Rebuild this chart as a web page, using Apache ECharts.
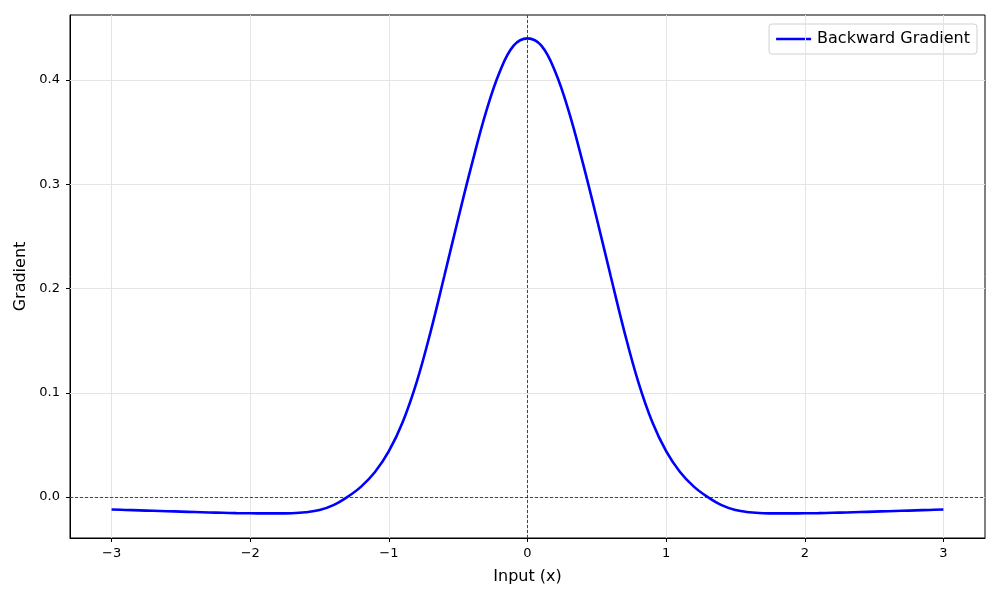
<!DOCTYPE html>
<html>
<head>
<meta charset="utf-8">
<script src="https://cdn.jsdelivr.net/npm/echarts@6/dist/echarts.min.js"></script>
<style>html,body{margin:0;padding:0;background:#fff}#c{width:1000px;height:600px}</style>
</head>
<body>
<div id="c"></div>
<script>
const xValues = [-3.0,-2.9,-2.8,-2.7,-2.6,-2.5,-2.4,-2.3,-2.2,-2.1,-2.0,-1.9,-1.8,-1.7,-1.6,-1.5,-1.4,-1.3,-1.2,-1.1,-1.0,-0.9,-0.8,-0.7,-0.6,-0.5,-0.4,-0.3,-0.2,-0.1,0.0,
  0.1,0.2,0.3,0.4,0.5,0.6,0.7,0.8,0.9,1.0,1.1,1.2,1.3,1.4,1.5,1.6,1.7,1.8,1.9,2.0,2.1,2.2,2.3,2.4,2.5,2.6,2.7,2.8,2.9,3.0];
const gradValues = [-0.0120,-0.0124,-0.0128,-0.0132,-0.0136,-0.0140,-0.0144,-0.0148,-0.0151,-0.0154,-0.0156,-0.0157,-0.0157,-0.0155,-0.0146,-0.0125,-0.0078,0.0000,0.0100,0.0240,0.0440,0.0720,0.1100,0.1580,0.2120,0.2670,0.3200,0.3690,0.4080,0.4330,0.4400,
  0.4330,0.4080,0.3690,0.3200,0.2670,0.2120,0.1580,0.1100,0.0720,0.0440,0.0240,0.0100,0.0000,-0.0078,-0.0125,-0.0146,-0.0155,-0.0157,-0.0157,-0.0156,-0.0154,-0.0151,-0.0148,-0.0144,-0.0140,-0.0136,-0.0132,-0.0128,-0.0124,-0.0120];
const xTicks = [-3,-2,-1,0,1,2,3];
const yTicks = [0.0,0.1,0.2,0.3,0.4];
const seriesName = 'Backward Gradient';
const xLabel = 'Input (x)';
const yLabel = 'Gradient';

const font = 'DejaVu Sans';
const fmtX = v => (v < 0 ? '\u2212' + Math.abs(v) : String(v));
const fmtY = v => (v < 0 ? '\u2212' : '') + Math.abs(v).toFixed(1);

const gridLines = [];
xTicks.forEach(v => gridLines.push({xAxis: v}));
yTicks.forEach(v => gridLines.push({yAxis: v}));

const chart = echarts.init(document.getElementById('c'), null, {renderer: 'canvas'});
chart.setOption({
  animation: false,
  textStyle: {fontFamily: font},
  grid: {left: 70, right: 15, top: 15, bottom: 62, show: true, borderColor: '#000', borderWidth: 1, backgroundColor: 'transparent'},
  legend: {
    data: [{name: seriesName, icon: 'path://M0,0 L35,0 L35,2.6 L0,2.6 Z'}], right: 23, top: 24, orient: 'vertical',
    itemWidth: 35, itemHeight: 2.6, itemGap: 10,
    padding: [7, 7, 7, 7], borderColor: '#d0d0d0', borderWidth: 1, borderRadius: 3,
    backgroundColor: 'rgba(255,255,255,0.8)',
    itemStyle: {color: '#0000ff', borderWidth: 0},
    lineStyle: {width: 0, opacity: 0},
    textStyle: {fontFamily: font, fontSize: 16, color: '#000', padding: [0, 0, 0, 1]}
  },
  xAxis: {
    type: 'value', min: -3.3, max: 3.3,
    name: xLabel, nameLocation: 'middle', nameGap: 31,
    nameTextStyle: {fontFamily: font, fontSize: 16, color: '#000'},
    axisLine: {show: true, onZero: false, lineStyle: {color: '#000', width: 1}},
    axisTick: {show: true, customValues: xTicks, length: 4, lineStyle: {color: '#000'}},
    axisLabel: {show: true, customValues: xTicks, formatter: fmtX, fontFamily: font, fontSize: 13, color: '#000', margin: 9},
    splitLine: {show: false}
  },
  yAxis: {
    type: 'value', min: -0.0393, max: 0.4624,
    name: yLabel, nameLocation: 'middle', nameGap: 39,
    nameTextStyle: {fontFamily: font, fontSize: 16, color: '#000'},
    axisLine: {show: true, onZero: false, lineStyle: {color: '#000', width: 1}},
    axisTick: {show: true, customValues: yTicks, length: 4, lineStyle: {color: '#000'}},
    axisLabel: {show: true, customValues: yTicks, formatter: fmtY, fontFamily: font, fontSize: 13, color: '#000', margin: 10},
    splitLine: {show: false}
  },
  series: [
    {
      type: 'line', name: '_grid', data: [], z: 1, silent: true,
      markLine: {
        silent: true, symbol: 'none', label: {show: false}, animation: false,
        lineStyle: {color: '#e4e4e4', opacity: 1, width: 1, type: 'solid'},
        data: gridLines
      }
    },
    {
      type: 'line', name: '_zero', data: [], z: 2, silent: true,
      markLine: {
        silent: true, symbol: 'none', label: {show: false}, animation: false,
        lineStyle: {color: '#000', width: 0.7, type: [3, 2], opacity: 1},
        data: [{xAxis: 0}, {yAxis: 0}]
      }
    },
    {
      type: 'line', name: seriesName, z: 5,
      data: xValues.map((x, i) => [x, gradValues[i]]),
      showSymbol: false, symbol: 'none', smooth: 0.4,
      lineStyle: {color: '#0000ff', width: 2.6},
      itemStyle: {color: '#0000ff'}
    }
  ]
});
</script>
</body>
</html>
